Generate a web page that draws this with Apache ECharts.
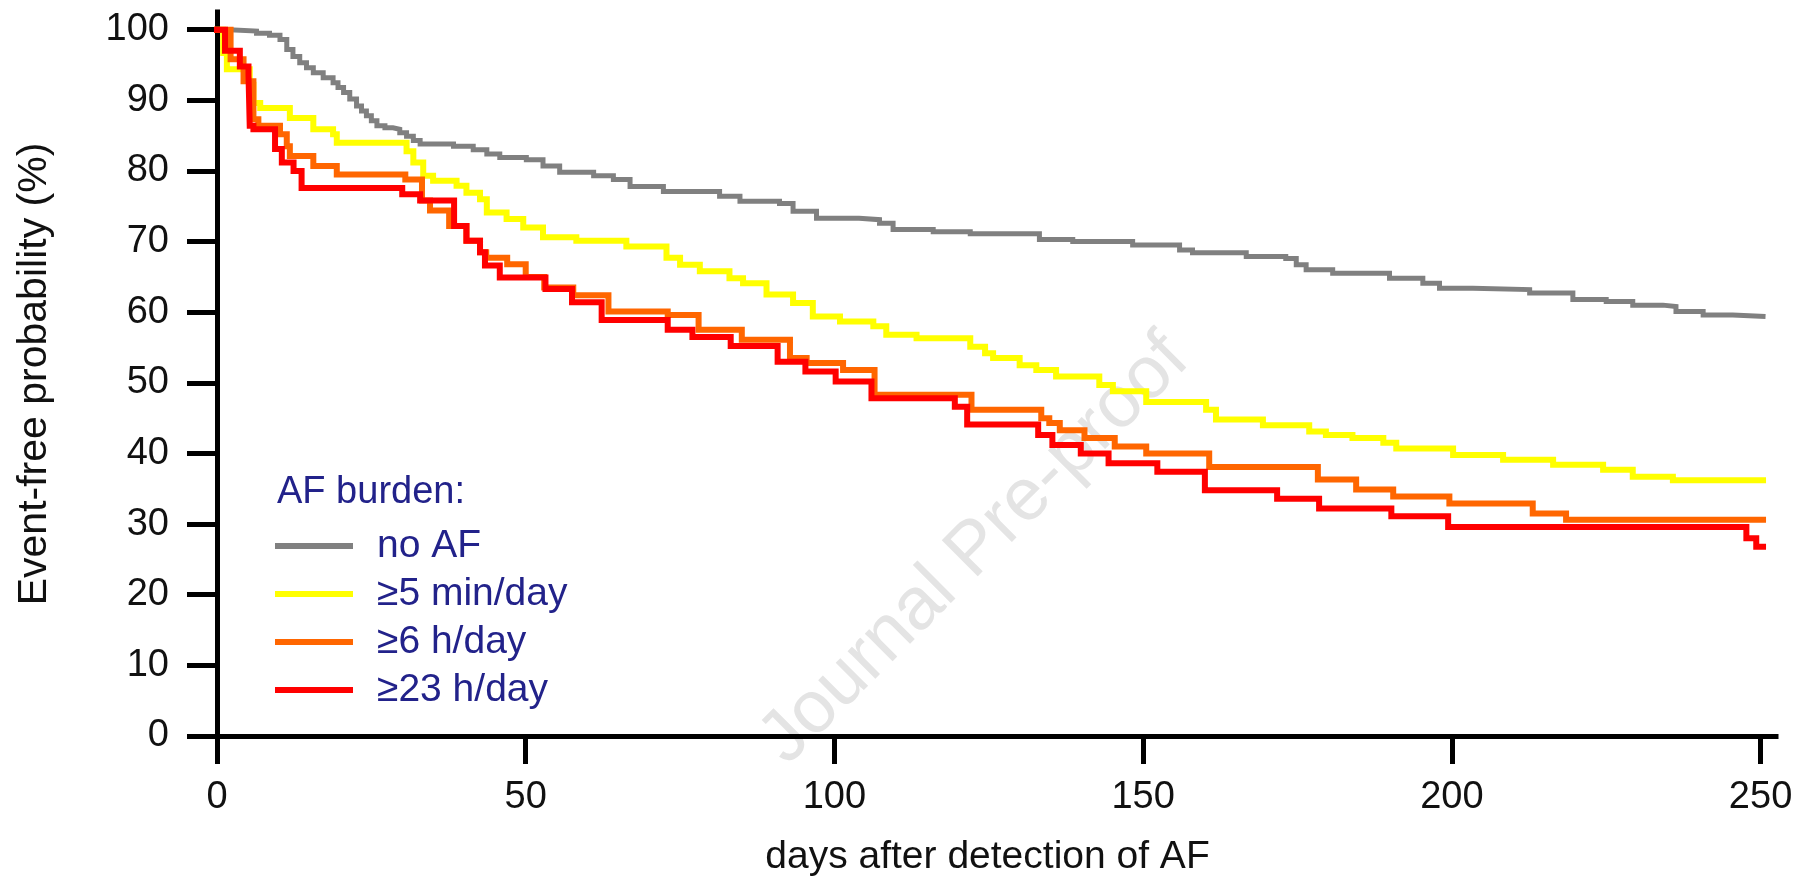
<!DOCTYPE html>
<html>
<head>
<meta charset="utf-8">
<script src="https://cdn.jsdelivr.net/npm/echarts@6/dist/echarts.min.js"></script>
<style>
  html, body { margin: 0; padding: 0; background: #fff; }
  #chart { width: 1801px; height: 883px; }
</style>
</head>
<body>
<div id="chart"></div>
<script>
// ---- data: [day, event-free probability %] (Kaplan-Meier step points) ----
const seriesNames = ['no AF', '\u22655 min/day', '\u22656 h/day', '\u226523 h/day'];
const seriesColors = ['#808080', '#ffff00', '#ff6600', '#ff0000'];

const noAF = [
  [0,100],[2,99.8],[6.4,99.5],[8.5,99.2],[10.2,98.6],[11.3,97.2],[12.3,96.2],[13.4,95.3],
  [14.5,94.6],[15.6,93.9],[17.2,93.2],[18.8,92.5],[19.6,91.8],[20.5,91.1],[21.5,90.2],
  [22.6,89.2],[23.4,88.5],[24.2,87.8],[25,87.1],[25.9,86.4],[27.2,86.1],[28.5,85.9],
  [29.6,85.4],[30.7,84.9],[31.8,84.3],[32.9,83.8],
  [38.3,83.5],[41.5,83],[43.7,82.4],[45.8,81.9],[50.1,81.6],[52.8,80.7],[55.5,79.8],
  [61,79.3],[64.2,78.8],[66.9,77.8],[72.3,77.1],[81.4,76.4],[84.7,75.7],[91.1,75.4],
  [93.3,74.3],[97.1,73.3],[104,73.1],[107.3,72.6],[109.5,71.7],[116,71.4],[122,71.1],
  [133.2,70.3],[138.6,70],[148.3,69.5],[155.9,68.8],[158,68.4],[166.7,67.9],[173.1,67.6],
  [174.8,66.7],[176.4,66],[180.7,65.5],[189.9,64.8],[195.3,64.1],[198,63.4],[203.4,63.2],
  [212.6,62.7],[219.6,61.8],[225,61.5],[229.3,61],[234.2,60.8],[236.3,60.1],[240.7,59.6],
  [245.5,59.4],[250.4,59.4]
];

const min5 = [
  [0,100],[1,96.7],[1.6,94.4],[5.3,92.2],[5.9,89.6],[7,88.9],[11.8,87.5],[15.6,85.9],
  [18.8,85.2],[19.4,84],[30.7,82.8],[31.8,81.2],[33.4,79.3],[35,78.6],[38.8,77.9],
  [40.4,76.9],[42.6,76],[43.7,74.1],[46.9,73.2],[49.6,72],[52.8,70.6],[58.2,70.1],
  [66.3,69.3],[72.8,67.7],[75,66.7],[78.2,65.8],[83,64.8],[85.2,64.1],[89,62.5],
  [93.3,61.3],[96.5,59.4],[100.9,58.7],[106.3,58],[108.4,56.8],[113.3,56.3],[122,55.1],
  [124.4,54.2],[125.7,53.5],[130,52.5],[132.7,51.8],[135.9,50.9],[142.9,49.7],[145.1,48.8],
  [150.5,47.3],[160.2,46.2],[161.8,44.8],[169.4,44],[176.9,43.1],[179.6,42.6],[183.9,42.2],
  [188.9,41.5],[191,40.7],[200.2,39.8],[208.3,39.1],[216.4,38.4],[224.5,37.7],[229.3,36.7],
  [235.8,36.2],[250.4,36.2]
];

const h6 = [
  [0,100],[2.2,95.8],[4.3,92.7],[5.9,87.3],[6.7,86.4],[10.2,85.2],[11.3,83.5],[11.8,82.1],
  [15.6,80.7],[19.4,79.5],[30.5,78.8],[33.2,75.8],[34.5,74.4],[37.6,72.2],[40.4,70.1],
  [42.6,68.5],[43.6,67.7],[47,66.8],[50,65],[53,63.5],[57.7,62.4],[63.4,60.1],[73,59.6],
  [78,57.5],[85,56.1],[92.8,53.5],[95.5,52.8],[101.4,51.8],[106.5,48.3],[122.2,46.2],
  [133.5,45],[134.8,44.3],[136.5,43.3],[140.5,42.2],[145.4,41],[150.5,40],[160.7,38.1],
  [178.3,36.3],[184.5,34.9],[190.5,33.9],[199.6,32.9],[213.1,31.5],[218.5,30.6],[250.4,30.6]
];

const h23 = [
  [0,100],[1.3,97],[3.7,94.8],[5.1,93.6],[5.3,86.4],[5.9,85.9],[9.4,83.1],[10.5,81.2],
  [12.4,80],[13.7,77.6],[30,76.7],[32.9,75.8],[38.4,72.2],[40.4,70.1],[42.6,68.5],
  [43.4,66.6],[45.8,64.9],[53.2,63.3],[57.5,61.4],[62.3,58.9],[73,57.5],[77,56.5],
  [83.2,55.2],[90.8,53],[95.3,51.6],[100.2,50.2],[106,47.8],[119.5,46.6],[121.5,44.1],
  [133,42.6],[135.3,41.2],[139.9,40],[144.4,38.6],[152.3,37.4],[160,34.8],[171.7,33.6],
  [178.5,32.2],[190.2,31.1],[199.4,29.6],[247.7,28],[249.3,26.8],[250.4,26.8]
];

const xTicks = [0, 50, 100, 150, 200, 250];
const yTicks = [0, 10, 20, 30, 40, 50, 60, 70, 80, 90, 100];

const xTitle = 'days after detection of AF';
const yTitle = 'Event-free probability (%)';
const legendTitle = 'AF burden:';
const watermark = 'Journal Pre-proof';

// ---- chart ----
const FONT = "'Liberation Sans', Arial, sans-serif";
const chart = echarts.init(document.getElementById('chart'), null, { renderer: 'canvas' });

const allData = [noAF, min5, h6, h23];
const widths = [5, 6, 6, 6];

const option = {
  animation: false,
  backgroundColor: '#ffffff',
  title: {
    text: legendTitle,
    left: 277,
    top: 474,
    padding: 0,
    textStyle: { fontFamily: FONT, fontSize: 38, fontWeight: 'normal', color: '#22228a' }
  },
  legend: {
    orient: 'vertical',
    left: 275,
    top: 522,
    padding: 0,
    itemGap: 0,
    itemWidth: 72,
    itemHeight: 6,
    selectedMode: false,
    data: seriesNames.slice(),
    lineStyle: { width: 6 },
    textStyle: { fontFamily: FONT, fontSize: 39, color: '#22228a', lineHeight: 48, padding: [0, 0, 0, 22] }
  },
  grid: {
    left: 217,
    right: 25,
    top: 12,
    bottom: 147,
    containLabel: false,
    outerBoundsMode: 'none'
  },
  xAxis: {
    type: 'value',
    min: 0,
    max: 252.5,
    name: xTitle,
    nameLocation: 'middle',
    nameGap: 102,
    nameTextStyle: { fontFamily: FONT, fontSize: 39, color: '#111', padding: [0, 18, 0, 0] },
    axisLine: { show: true, onZero: false, lineStyle: { color: '#000', width: 5, cap: 'square' } },
    axisTick: { show: true, inside: false, length: 28, lineStyle: { color: '#000', width: 5 }, customValues: xTicks },
    axisLabel: { show: true, customValues: xTicks, margin: 43, fontFamily: FONT, fontSize: 38, color: '#111' },
    splitLine: { show: false }
  },
  yAxis: {
    type: 'value',
    min: 0,
    max: 102.5,
    name: yTitle,
    nameLocation: 'middle',
    nameGap: 162,
    nameRotate: 90,
    nameTextStyle: { fontFamily: FONT, fontSize: 41, color: '#111' },
    axisLine: { show: true, onZero: false, lineStyle: { color: '#000', width: 5, cap: 'square' } },
    axisTick: { show: true, inside: false, length: 30, lineStyle: { color: '#000', width: 5 }, customValues: yTicks },
    axisLabel: { show: true, customValues: yTicks, margin: 48, fontFamily: FONT, fontSize: 38, color: '#111' },
    splitLine: { show: false }
  },
  graphic: [{
    type: 'text',
    x: 975,
    y: 550,
    rotation: Math.PI / 4,
    z: -10,
    silent: true,
    style: {
      text: watermark,
      font: "74px 'Liberation Sans', Arial, sans-serif",
      fill: '#e4e4e4',
      textAlign: 'center',
      textVerticalAlign: 'middle'
    }
  }],
  series: allData.map((d, i) => ({
    name: seriesNames[i],
    type: 'line',
    step: 'end',
    data: d,
    symbol: 'none',
    showSymbol: false,
    z: 2 + i,
    lineStyle: { color: seriesColors[i], width: widths[i], cap: 'square', join: 'miter' },
    itemStyle: { color: seriesColors[i] },
    emphasis: { disabled: true }
  }))
};

chart.setOption(option);
</script>
</body>
</html>
